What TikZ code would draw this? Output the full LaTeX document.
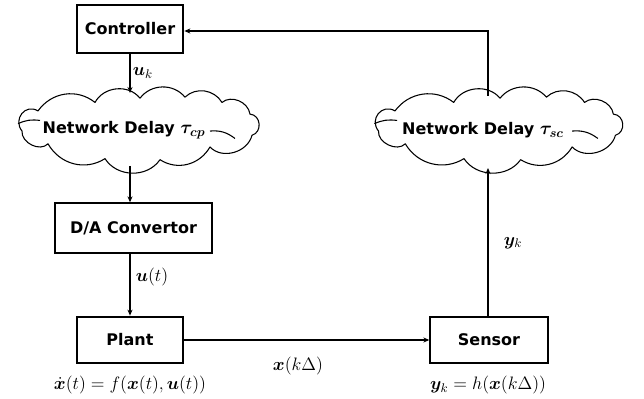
\RequirePackage{fix-cm}
\documentclass[tikz,border=0pt]{standalone}
\usepackage{amsmath}
\usepackage{bm}
\usepackage{fontspec}
\setmainfont{DejaVu Sans}
\usetikzlibrary{arrows.meta}
\tikzset{
  blk/.style={draw, line width=1.5pt, fill=white, font=\bfseries\fontsize{12}{14}\selectfont, inner sep=0pt},
  conn/.style={line width=0.8pt, -{Stealth[length=4.5pt,width=3.8pt]}},
  cloudline/.style={line width=0.8pt, line join=round},
  cloudtxt/.style={font=\bfseries\fontsize{12}{14}\selectfont},
  lbl/.style={font=\fontsize{13.5}{15}\selectfont, inner sep=1pt}
}
\newcommand{\mycloudpath}{%
  \draw[cloudline] (-116,1) to[bend left=80, looseness=1.5] (-100,-18)
    to[bend left=45] (-43,-26)
    to[bend left=55] (2,-30)
    to[bend left=50] (47,-31)
    to[bend left=50] (84,-26)
    to[bend left=60] (112,-15)
    to[bend left=80, looseness=1.4] (114,5)
    to[bend left=60] (72,16)
    to[bend left=45] (22,28)
    to[bend left=55] (-33,27)
    to[bend left=45] (-90,13)
    to[bend left=70] cycle;
  \draw[cloudline] (-120,-6) to[bend left=15] (-98,-9);
  \draw[cloudline] (97,8) to[bend right=20] (72,1);
}
\begin{document}
\begin{tikzpicture}[x=0.75pt,y=-0.75pt]
\useasboundingbox (0,0) rectangle (644,399);
\begin{scope}[shift={(138,130)}, yscale=1.06]
  \mycloudpath
\end{scope}
\begin{scope}[shift={(498,130)}, xscale=1.03, yscale=1.06]
  \mycloudpath
\end{scope}
\node[blk, minimum width=80pt, minimum height=36pt] (ctrl) at (130,29) {Controller};
\node[cloudtxt] (t1) at (124,130) {Network Delay {\fontsize{14}{16}\selectfont$\bm{\tau_{cp}}$}};
\node[blk, minimum width=118pt, minimum height=37pt] (da) at (133.5,228) {D/A Convertor};
\node[blk, minimum width=80pt, minimum height=35pt] (plant) at (130,340) {Plant};
\node[blk, minimum width=88pt, minimum height=35pt] (sensor) at (489,340) {Sensor};
\node[cloudtxt] (t2) at (483,130) {Network Delay {\fontsize{14}{16}\selectfont$\bm{\tau_{sc}}$}};
\coordinate (c1top) at (130,93);
\coordinate (c1bot) at (130,166);
\coordinate (c2top) at (488,96);
\coordinate (c2bot) at (488,168);
\coordinate (ret) at (488,31);

\draw[conn] (ctrl.south) -- (c1top);
\draw[conn] (c1bot) -- (c1bot |- da.north);
\draw[conn] (plant.north |- da.south) -- (plant.north);
\draw[conn] (plant.east) -- (sensor.west);
\draw[conn] (ret |- sensor.north) -- (c2bot);
\draw[conn] (c2top) -- (ret) -- (ctrl.east |- ret);

\node[lbl] (luk) at (143,73) {$\bm{u}_k$};
\node[lbl] (lut) at (152,277) {$\bm{u}(t)$};
\node[lbl] (lx) at (298,366) {$\bm{x}(k\Delta)$};
\node[lbl] (lyk) at (513,243) {$\bm{y}_k$};
\node[lbl] (eq1) at (130,385) {$\bm{\dot{x}}(t) = f(\bm{x}(t),\bm{u}(t))$};
\node[lbl] (eq2) at (488,385) {$\bm{y}_k = h(\bm{x}(k\Delta))$};
\end{tikzpicture}
\end{document}
